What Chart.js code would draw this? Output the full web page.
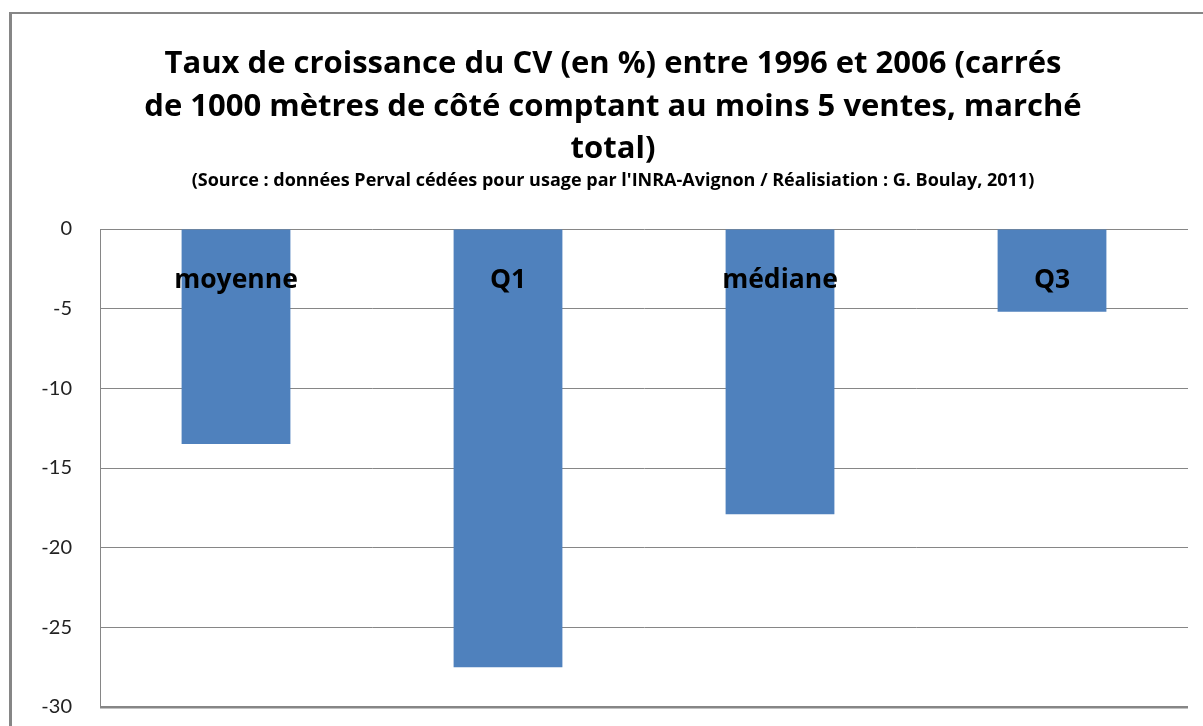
<!DOCTYPE html>
<html lang="fr">
<head>
<meta charset="utf-8">
<title>Taux de croissance du CV</title>
<script src="https://cdn.jsdelivr.net/npm/chart.js@4"></script>
<style>
  html, body { margin: 0; padding: 0; background: #fff; }
  #wrap { width: 1203px; height: 726px; position: relative; }
</style>
</head>
<body>
<div id="wrap"><canvas id="graphique" width="1203" height="726"></canvas></div>
<script>
// données : taux de croissance du CV (en %) entre 1996 et 2006
const categories = ['moyenne', 'Q1', 'médiane', 'Q3'];
const tauxCroissance = [-13.5, -27.5, -17.9, -5.2];
const echelleMin = -30;
const echelleMax = 0;
const pasGraduation = 5;

const titreLignes = [
  'Taux de croissance du CV (en %) entre 1996 et 2006 (carrés',
  'de 1000 mètres de côté comptant au moins 5 ventes, marché',
  'total)'
];
const sourceTexte = "(Source : données Perval cédées pour usage par l'INRA-Avignon / Réalisiation : G. Boulay, 2011)";

const gris = '#868686';
const bleu = '#4f81bd';

// cadre + titre dessinés à la main (centrés comme dans Excel, pas sur la zone du graphique)
const cadreEtTitre = {
  id: 'cadreEtTitre',
  beforeDraw(chart) {
    const ctx = chart.ctx;
    ctx.save();
    ctx.fillStyle = gris;
    ctx.fillRect(9, 12, 3, 726);
    ctx.fillRect(9, 12, 1203, 2);

    ctx.fillStyle = '#000';
    ctx.textAlign = 'center';
    ctx.textBaseline = 'alphabetic';
    ctx.font = 'bold 31px "Open Sans"';
    const yLignes = [73, 116, 158];
    titreLignes.forEach((t, i) => ctx.fillText(t, 613, yLignes[i]));
    ctx.font = 'bold 18px "Open Sans"';
    ctx.fillText(sourceTexte, 613, 186);
    ctx.restore();
  }
};

// étiquettes de catégories posées juste sous la ligne du zéro, par-dessus les barres
const etiquettesCategories = {
  id: 'etiquettesCategories',
  afterDatasetsDraw(chart) {
    const { ctx, scales: { x, y } } = chart;
    ctx.save();
    ctx.fillStyle = '#000';
    ctx.textAlign = 'center';
    ctx.textBaseline = 'alphabetic';
    ctx.font = 'bold 26.5px "Open Sans"';
    const yTexte = y.getPixelForValue(0) + 59;
    categories.forEach((c, i) => ctx.fillText(c, x.getPixelForValue(i), yTexte));
    ctx.restore();
  }
};

new Chart(document.getElementById('graphique'), {
  type: 'bar',
  data: {
    labels: categories,
    datasets: [{
      data: tauxCroissance,
      backgroundColor: bleu,
      borderWidth: 0,
      categoryPercentage: 0.4,
      barPercentage: 1
    }]
  },
  options: {
    responsive: false,
    animation: false,
    layout: { padding: { top: 229, right: 15, bottom: 19, left: 10 } },
    plugins: {
      legend: { display: false },
      tooltip: { enabled: false }
    },
    scales: {
      x: {
        display: false
      },
      y: {
        min: echelleMin,
        max: echelleMax,
        afterFit(scale) {
          // largeur fixe, et on ne laisse pas le padding des graduations grignoter le bas
          scale.width = 90;
          scale.paddingTop = 12;
          scale.paddingBottom = 12;
        },
        grid: {
          color: gris,
          drawTicks: false,
          lineWidth: (c) => (c.tick && c.tick.value === echelleMin ? 2.5 : 1)
        },
        border: { display: true, color: gris, width: 1 },
        ticks: {
          stepSize: pasGraduation,
          padding: 28,
          color: '#222',
          font: { family: 'Lato', size: 20 }
        }
      }
    }
  },
  plugins: [cadreEtTitre, etiquettesCategories]
});
</script>
</body>
</html>
